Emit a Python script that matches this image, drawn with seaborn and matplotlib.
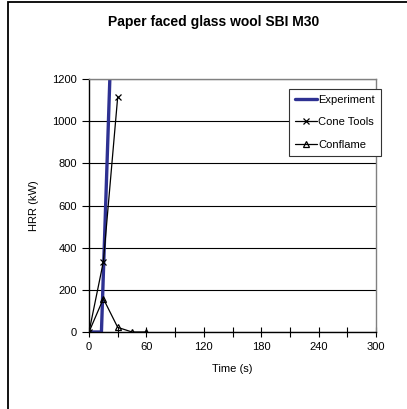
import numpy as np
import pandas as pd
import seaborn as sns
import matplotlib
matplotlib.use("Agg")
from matplotlib import pyplot as plt
from matplotlib.patches import Rectangle
from matplotlib.ticker import MultipleLocator

sns.set_style("white")
plt.rcParams['font.family'] = ['Liberation Sans', 'DejaVu Sans']
plt.rcParams['text.color'] = 'black'
plt.rcParams['axes.labelcolor'] = 'black'
plt.rcParams['xtick.color'] = 'black'
plt.rcParams['ytick.color'] = 'black'

# values
expTime = [0, 13, 22]
expHRR = [0, 0, 1230]
coneTime = [0, 15, 30]
coneHRR = [0, 333, 1115]
conflameTime = [0, 15, 30, 45, 60]
conflameHRR = [0, 158, 22, 0, 0]

fig = plt.figure(figsize=(4.07, 4.09), dpi=100)
W, H = 407, 409
ax = fig.add_axes([89 / W, 1 - 332 / H, (376 - 89) / W, (332 - 79) / H])

# outer chart border (cropped on the right and bottom)
fig.patches.append(Rectangle((8 / W, -0.1), 1.2, 1.1 - 2 / H, transform=fig.transFigure,
                             fill=False, edgecolor="black", linewidth=1.3))

ax.yaxis.grid(True, color="black", linewidth=0.8)
ax.set_axisbelow(True)

sns.lineplot(x=expTime, y=expHRR, ax=ax, color="#2E3192", linewidth=2.4, label="Experiment")
sns.lineplot(x=coneTime, y=coneHRR, ax=ax, color="black", linewidth=0.9, marker="x",
             markersize=5, markeredgecolor="black", markeredgewidth=0.9, label="Cone Tools")
sns.lineplot(x=conflameTime, y=conflameHRR, ax=ax, color="black", linewidth=0.9, marker="^",
             markersize=5, markerfacecolor="none", markeredgecolor="black", markeredgewidth=0.9,
             label="Conflame")

ax.set_xlim(0, 300)
ax.set_ylim(0, 1200)
ax.xaxis.set_major_locator(MultipleLocator(60))
ax.xaxis.set_minor_locator(MultipleLocator(30))
ax.yaxis.set_major_locator(MultipleLocator(200))
ax.tick_params(axis="x", which="both", direction="inout", length=7, width=0.8, labelsize=8, pad=4,
               bottom=True)
ax.tick_params(axis="y", direction="out", length=5, width=0.8, labelsize=8, left=True)

for side in ["left", "bottom"]:
    ax.spines[side].set_color("black")
    ax.spines[side].set_linewidth(1.0)
for side in ["top", "right"]:
    ax.spines[side].set_color("#808080")
    ax.spines[side].set_linewidth(1.0)

ax.set_xlabel("Time (s)", fontsize=8, labelpad=8)
ax.set_ylabel("HRR (kW)", fontsize=8, labelpad=10)
fig.text(214 / W, 1 - 22 / H, "Paper faced glass wool SBI M30", ha="center", va="center",
         fontsize=10, fontweight="bold")

leg = ax.legend(loc="upper left", bbox_to_anchor=((289 - 89) / (376 - 89), 1 - (89 - 79) / (332 - 79)),
                fontsize=8, frameon=True, fancybox=False, edgecolor="#333333", framealpha=1,
                handlelength=2.0, handletextpad=0.1, borderpad=0.55, labelspacing=1.1,
                borderaxespad=0)
leg.get_frame().set_linewidth(0.8)
leg.set_zorder(5)

fig.savefig("out.png", dpi=100)
